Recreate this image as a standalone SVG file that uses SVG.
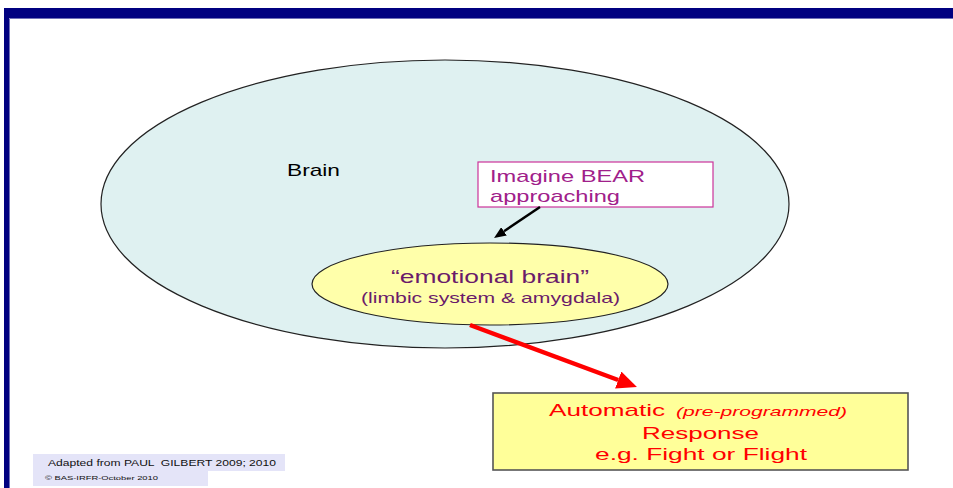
<svg xmlns="http://www.w3.org/2000/svg" width="953" height="488" viewBox="0 0 953 488">
<style>
text{font-family:"Liberation Sans",Arial,sans-serif}
.outline{stroke:#222;stroke-width:1.2}
.purple{fill:#6a1b6a}
.mag{fill:#a0208a}
.red{fill:#ff0000}
</style>
<defs>
<marker id="hb" markerUnits="userSpaceOnUse" markerWidth="12" markerHeight="10" refX="0" refY="5" orient="auto"><path d="M0,0 L12,5 L0,10 z" fill="#000"/></marker>
<marker id="hr" markerUnits="userSpaceOnUse" markerWidth="20" markerHeight="18" refX="0" refY="9" orient="auto"><path d="M0,0 L20,9 L0,18 z" fill="#ff0000"/></marker>
</defs>
<rect width="953" height="488" fill="#fff"/>
<g id="frame">
<rect x="4" y="8" width="949" height="10" fill="#000080"/>
<rect x="4" y="8" width="5" height="480" fill="#000080"/>
<line x1="9.5" y1="18.5" x2="953" y2="18.5" stroke="#7070b8" stroke-width="1"/>
<line x1="9.5" y1="18.5" x2="9.5" y2="488" stroke="#7070b8" stroke-width="1"/>
</g>
<g id="brain">
<ellipse cx="445" cy="204" rx="344" ry="144" fill="#dff1f1" class="outline"/>
<text x="287" y="176" font-size="17" textLength="53" lengthAdjust="spacingAndGlyphs" fill="#000">Brain</text>
</g>
<g id="emotional">
<ellipse cx="490" cy="284" rx="178" ry="41" fill="#ffffaa" class="outline"/>
<text x="391" y="283" font-size="17.5" textLength="198" lengthAdjust="spacingAndGlyphs" class="purple">“emotional brain”</text>
<text x="361" y="302.5" font-size="14.5" textLength="259" lengthAdjust="spacingAndGlyphs" class="purple">(limbic system &amp; amygdala)</text>
</g>
<g id="bear">
<rect x="478" y="162" width="235" height="45" fill="#fff" stroke="#cc3399" stroke-width="1.2"/>
<text x="490" y="182" font-size="17" textLength="155" lengthAdjust="spacingAndGlyphs" class="mag">Imagine BEAR</text>
<text x="490" y="201.5" font-size="17" textLength="130" lengthAdjust="spacingAndGlyphs" class="mag">approaching</text>
</g>
<g id="response">
<rect x="493" y="393" width="415" height="77" fill="#ffff99" stroke="#555" stroke-width="1.6"/>
<text x="549" y="416" font-size="17" textLength="116" lengthAdjust="spacingAndGlyphs" class="red">Automatic</text>
<text x="676" y="416" font-size="13" font-style="italic" textLength="171" lengthAdjust="spacingAndGlyphs" class="red">(pre-programmed)</text>
<text x="642" y="438.5" font-size="17" textLength="117" lengthAdjust="spacingAndGlyphs" class="red">Response</text>
<text x="595" y="459.5" font-size="17" textLength="212" lengthAdjust="spacingAndGlyphs" class="red">e.g. Fight or Flight</text>
</g>
<g id="connectors">
<line x1="540" y1="207" x2="504" y2="231.3" stroke="#000" stroke-width="2.5" marker-end="url(#hb)"/>
<line x1="470" y1="325" x2="618.2" y2="380" stroke="#ff0000" stroke-width="4.5" marker-end="url(#hr)"/>
</g>
<g id="footer">
<rect x="33" y="454" width="252" height="17" fill="#e4e4f8"/>
<rect x="33" y="471" width="175" height="15" fill="#e4e4f8"/>
<text x="48" y="466" font-size="8.5" textLength="228" lengthAdjust="spacingAndGlyphs" fill="#111" style="white-space:pre">Adapted from PAUL  GILBERT 2009; 2010</text>
<text x="45" y="479.5" font-size="6.2" textLength="113" lengthAdjust="spacingAndGlyphs" fill="#111">© BAS-IRFR-October 2010</text>
</g>
</svg>
